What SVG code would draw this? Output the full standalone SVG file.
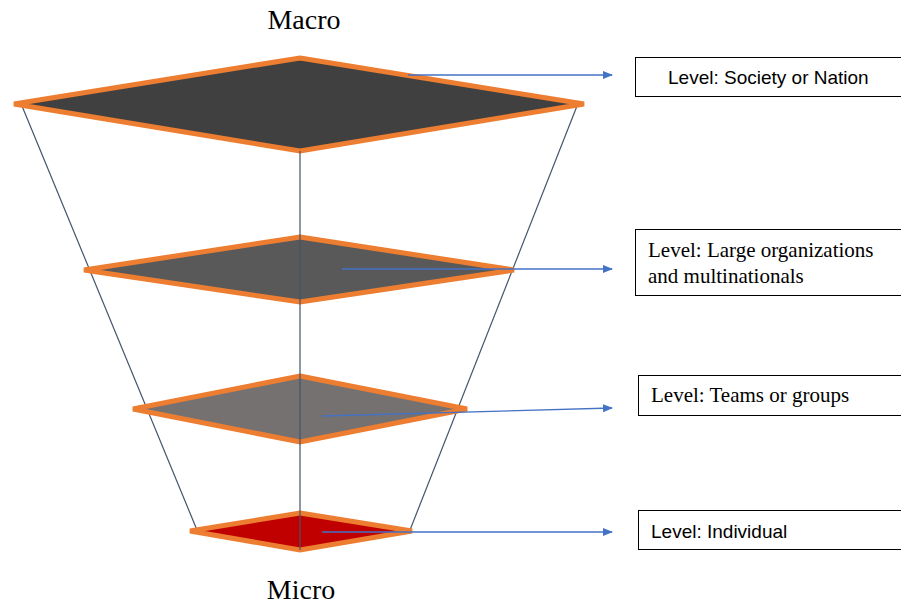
<svg xmlns="http://www.w3.org/2000/svg" width="901" height="605" viewBox="0 0 901 605">
<style>
.lvl{stroke:#ED7D31;stroke-width:5;stroke-linejoin:miter}
.edge{stroke:#44546A;stroke-width:1.2;fill:none}
.arr{stroke:#4472C4;stroke-width:1.3;fill:none;marker-end:url(#ah)}
.box{fill:#fff;stroke:#000;stroke-width:1}
.sans{font-family:"Liberation Sans","Open Sans",Arial,sans-serif;font-size:19px;fill:#000}
.serif{font-family:"Liberation Serif","Times New Roman",serif;font-size:21px;fill:#000}
.big{font-family:"Liberation Serif","Times New Roman",serif;font-size:28px;fill:#000}
</style>
<defs>
<marker id="ah" markerWidth="10" markerHeight="8" refX="9" refY="4" orient="auto" markerUnits="userSpaceOnUse">
<path d="M0,0 L10,4 L0,8 Z" fill="#4472C4"/>
</marker>
</defs>
<rect width="901" height="605" fill="#fff"/>
<text class="big" x="304" y="29" text-anchor="middle">Macro</text>
<text class="big" x="301" y="599" text-anchor="middle">Micro</text>
<g id="funnel">
<line class="edge" x1="22" y1="106" x2="197" y2="530"/>
<line class="edge" x1="577" y1="106" x2="410" y2="530"/>
</g>
<g id="level-society">
<polygon class="lvl" points="300,58 584,104 300,151 14,104" fill="#404040"/>
</g>
<g id="level-large">
<polygon class="lvl" points="300,237 514,270 300,302 84,270" fill="#595959"/>
</g>
<g id="level-teams">
<polygon class="lvl" points="300,376 467,409 300,442 133,409" fill="#767171"/>
</g>
<g id="level-individual">
<polygon class="lvl" points="300,513 412,531 300,550 190,531" fill="#C00000"/>
</g>
<g id="axis">
<line class="edge" x1="300" y1="151" x2="300" y2="550"/>
</g>
<g id="connectors">
<line class="arr" x1="408" y1="75" x2="612" y2="75"/>
<line class="arr" x1="342" y1="269" x2="612" y2="269"/>
<line class="arr" x1="322" y1="416" x2="612" y2="408"/>
<line class="arr" x1="322" y1="532" x2="612" y2="532"/>
</g>
<g id="box-society">
<rect class="box" x="635.5" y="57.5" width="270" height="39"/>
<text class="sans" x="668" y="84">Level: Society or Nation</text>
</g>
<g id="box-large">
<rect class="box" x="635.5" y="229.5" width="270" height="66"/>
<text class="serif" x="648" y="257">Level: Large organizations</text>
<text class="serif" x="648" y="283">and multinationals</text>
</g>
<g id="box-teams">
<rect class="box" x="638.5" y="375.5" width="270" height="40"/>
<text class="serif" x="651" y="402">Level: Teams or groups</text>
</g>
<g id="box-individual">
<rect class="box" x="638.5" y="510.5" width="270" height="39"/>
<text class="sans" x="651" y="538">Level: Individual</text>
</g>
</svg>
